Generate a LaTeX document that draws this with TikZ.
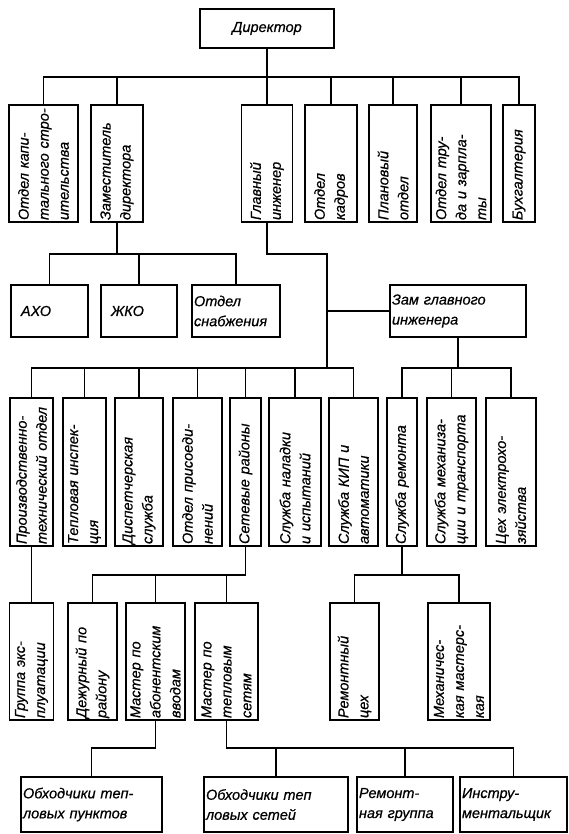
\documentclass[tikz,border=0pt]{standalone}
\usepackage{fontspec}
\setmainfont{Liberation Sans}[ItalicFeatures={FakeBold=0.6}]
\usetikzlibrary{positioning}

\begin{document}
\begin{tikzpicture}[
  x=1pt, y=-1pt,
  unit/.style={draw, line width=1.2pt, align=left, inner xsep=2pt, inner ysep=1pt,
               font=\fontsize{14.5}{20}\selectfont\itshape},
  hunit/.style 2 args={unit, text width=#1-4, minimum width=#1, minimum height=#2},
  vunit/.style 2 args={unit, rotate=90, text width=#2-4, minimum width=#2, minimum height=#1},
  link/.style={line width=1.3pt}
]
  \useasboundingbox (0,0) rectangle (569,834);

  % top
  \node[hunit={134}{39}, align=center] (dir) at (267,28.5) {Директор};

  % departments under the director
  \node[vunit={69}{117}] (kap)  at (43.5,163.5) {Отдел капи-\\тального~стро-\\ительства};
  \node[vunit={52}{117}] (zam)  at (117,163.5)  {Заместитель\\директора};
  \node[vunit={51}{117}] (glav) at (267,163.5)  {Главный\\инженер};
  \node[vunit={52}{117}] (kadr) at (331,163.5)  {Отдел\\кадров};
  \node[vunit={48}{117}] (plan) at (393,163.5)  {Плановый\\отдел};
  \node[vunit={60}{117}] (trud) at (461,163.5)  {Отдел тру-\\да и зарпла-\\ты};
  \node[vunit={32}{117}] (buh)  at (519,163.5)  {Бухгалтерия};

  % second level
  \node[hunit={77}{52}]  (aho)  at (49.5,311) {\hspace{8pt}АХО};
  \node[hunit={76}{52}]  (zhko) at (139,311)  {\hspace{8pt}ЖКО};
  \node[hunit={88}{52}]  (snab) at (236,311)  {Отдел\\снабжения};
  \node[hunit={136}{52}] (zgl)  at (458,311)  {Зам главного\\инженера};

  % services of the chief engineer
  \node[vunit={43}{148}] (pto)  at (31.5,472)  {Производственно-\\технический~отдел};
  \node[vunit={43}{148}] (tepl) at (84.5,472)  {Тепловая инспек-\\ция};
  \node[vunit={48}{148}] (disp) at (139,472)   {Диспетчерская\\служба};
  \node[vunit={49}{148}] (pris) at (197.5,472) {Отдел присоеди-\\нений};
  \node[vunit={31}{148}] (set)  at (245.5,472) {Сетевые районы};
  \node[vunit={52}{148}] (nal)  at (295,472)   {Служба наладки\\и испытаний};
  \node[vunit={49}{148}] (kip)  at (353.5,472) {Служба КИП и\\автоматики};
  \node[vunit={30}{148}] (srem) at (402,472)   {Служба ремонта};
  \node[vunit={49}{148}] (meh)  at (451.5,472) {Служба механиза-\\ции и транспорта};
  \node[vunit={50}{148}] (elek) at (511,472)   {Цех электрохо-\\зяйства};

  % fourth level
  \node[vunit={44}{117}] (grp)  at (31.5,661.5)  {Группа экс-\\плуатации};
  \node[vunit={49}{117}] (dezh) at (92.5,661.5)  {Дежурный по\\району};
  \node[vunit={59}{117}] (mab)  at (155.5,661.5) {Мастер по\\абонентским\\вводам};
  \node[vunit={63}{117}] (mts)  at (226.5,661.5) {Мастер по\\тепловым\\сетям};
  \node[vunit={49}{117}] (rc)   at (354.5,661.5) {Ремонтный\\цех};
  \node[vunit={62}{117}] (mm)   at (459,661.5)   {Механичес-\\кая~мастерс-\\кая};

  % bottom
  \node[hunit={141}{55}] (obp)   at (91.5,804.5) {Обходчики теп-\\ловых пунктов};
  \node[hunit={144}{55}] (obs)   at (276,804.5)  {Обходчики теп\\ловых сетей};
  \node[hunit={96}{55}]  (rg)    at (405,804.5)  {Ремонт-\\ная группа};
  \node[hunit={107}{55}] (instr) at (513.5,804.5) {Инстру-\\ментальщик};

  % bus points
  \coordinate (b1) at (267,77);
  \coordinate (b2) at (142,254);
  \coordinate (g1) at (327,254);
  \coordinate (b3) at (327,368);
  \coordinate (b4) at (458,368);
  \coordinate (b5) at (245.5,575);
  \coordinate (b6) at (402,575);
  \coordinate (b7) at (155.5,748);
  \coordinate (b8) at (226.5,748);

  \draw[link] (dir) -- (b1);
  \draw[link] (kap) |- (b1) -| (buh);
  \draw[link] (zam) -- (zam |- b1);
  \draw[link] (glav) -- (glav |- b1);
  \draw[link] (kadr) -- (kadr |- b1);
  \draw[link] (plan) -- (plan |- b1);
  \draw[link] (trud) -- (trud |- b1);

  \draw[link] (zam) -- (zam |- b2);
  \draw[link] (aho) |- (b2) -| (snab);
  \draw[link] (zhko) -- (zhko |- b2);

  \draw[link] (glav) |- (g1) -- (b3);
  \draw[link] (zgl) -- (zgl -| g1);
  \draw[link] (pto) |- (b3) -| (kip);
  \draw[link] (tepl) -- (tepl |- b3);
  \draw[link] (disp) -- (disp |- b3);
  \draw[link] (pris) -- (pris |- b3);
  \draw[link] (set) -- (set |- b3);
  \draw[link] (nal) -- (nal |- b3);

  \draw[link] (zgl) -- (b4);
  \draw[link] (srem) |- (b4) -| (elek);
  \draw[link] (meh) -- (meh |- b4);

  \draw[link] (pto) -- (grp);
  \draw[link] (set) -- (b5);
  \draw[link] (dezh) |- (b5);
  \draw[link] (mab) -- (mab |- b5);
  \draw[link] (mts) -- (mts |- b5);
  \draw[link] (srem) -- (b6);
  \draw[link] (rc) |- (b6) -| (mm);

  \draw[link] (mab) -- (b7) -| (obp);
  \draw[link] (mts) -- (b8) -| (instr);
  \draw[link] (obs) -- (obs |- b8);
  \draw[link] (rg) -- (rg |- b8);
\end{tikzpicture}
\end{document}
